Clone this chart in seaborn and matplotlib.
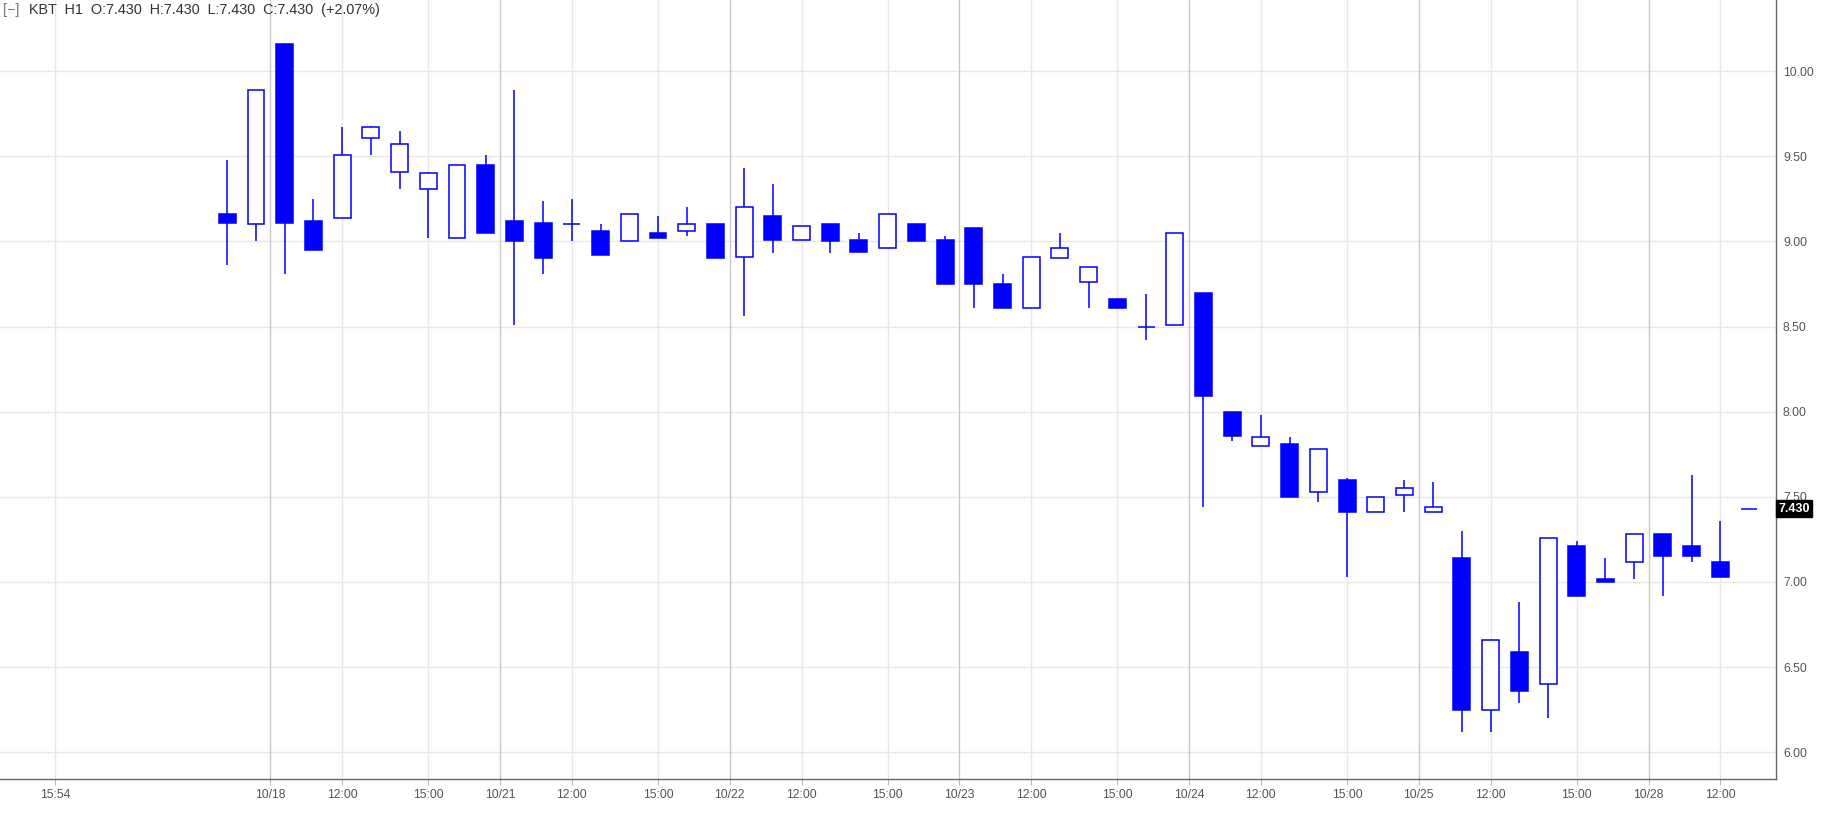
import numpy as np
import pandas as pd
import matplotlib
matplotlib.use("Agg")
import matplotlib.pyplot as plt
import seaborn as sns
from matplotlib import font_manager

# -------------------------------
# 1. Data: hourly OHLC
# -------------------------------
opens = [9.16, 9.10, 10.16, 9.12, 9.14, 9.61, 9.41, 9.31, 9.02, 9.45,
         9.12, 9.11, 9.10, 9.06, 9.00, 9.05, 9.06, 9.10, 8.91, 9.15,
         9.01, 9.10, 9.01, 8.96, 9.10, 9.01, 9.08, 8.75, 8.61, 8.90,
         8.76, 8.66, 8.50, 8.51, 8.70, 8.00, 7.80, 7.81, 7.53, 7.60,
         7.41, 7.51, 7.41, 7.14, 6.25, 6.59, 6.40, 7.21, 7.02, 7.12,
         7.28, 7.21, 7.12, 7.43]
highs = [9.48, 9.89, 10.16, 9.25, 9.67, 9.68, 9.65, 9.41, 9.45, 9.51,
         9.89, 9.24, 9.25, 9.10, 9.16, 9.15, 9.20, 9.10, 9.43, 9.34,
         9.09, 9.10, 9.05, 9.16, 9.10, 9.03, 9.08, 8.81, 8.91, 9.05,
         8.85, 8.66, 8.69, 9.05, 8.70, 8.00, 7.98, 7.85, 7.78, 7.61,
         7.50, 7.60, 7.59, 7.30, 6.66, 6.88, 7.26, 7.24, 7.14, 7.28,
         7.28, 7.63, 7.36, 7.43]
lows = [8.86, 9.00, 8.81, 8.95, 9.14, 9.51, 9.31, 9.02, 9.02, 9.05,
        8.51, 8.81, 9.00, 8.92, 9.00, 9.02, 9.03, 8.90, 8.56, 8.93,
        9.01, 8.93, 8.94, 8.96, 9.00, 8.75, 8.61, 8.61, 8.61, 8.90,
        8.61, 8.61, 8.42, 8.51, 7.44, 7.83, 7.80, 7.50, 7.47, 7.03,
        7.41, 7.41, 7.41, 6.12, 6.12, 6.29, 6.20, 6.92, 7.00, 7.02,
        6.92, 7.12, 7.03, 7.43]
closes = [9.11, 9.89, 9.11, 8.95, 9.51, 9.67, 9.57, 9.40, 9.45, 9.05,
          9.00, 8.90, 9.10, 8.92, 9.16, 9.02, 9.10, 8.90, 9.20, 9.01,
          9.09, 9.00, 8.94, 9.16, 9.00, 8.75, 8.75, 8.61, 8.91, 8.96,
          8.85, 8.61, 8.50, 9.05, 8.09, 7.86, 7.85, 7.50, 7.78, 7.41,
          7.50, 7.55, 7.44, 6.25, 6.66, 6.36, 7.26, 6.92, 7.00, 7.28,
          7.15, 7.15, 7.03, 7.43]

# trading sessions: day label and the hours traded that day
session_days = ["10/17", "10/18", "10/21", "10/22", "10/23", "10/24", "10/25", "10/28"]
session_hours = [[16, 17]] + [list(range(10, 18))] * 6 + [[10, 11, 12, 13]]

y_ticks = [6.0, 6.5, 7.0, 7.5, 8.0, 8.5, 9.0, 9.5, 10.0]
header = "KBT  H1  O:7.430  H:7.430  L:7.430  C:7.430  (+2.07%)"
last_label = "7.430"
left_label = "15:54"

# -------------------------------
# 2. Build table
# -------------------------------
day_col, hour_col = [], []
for d, hrs in zip(session_days, session_hours):
    for h in hrs:
        day_col.append(d)
        hour_col.append(h)

df = pd.DataFrame({"day": day_col, "hour": hour_col,
                   "open": opens, "high": highs, "low": lows, "close": closes})
df["slot"] = np.arange(len(df))
df["up"] = df["close"] >= df["open"]
df["body_low"] = df[["open", "close"]].min(axis=1)
df["body_h"] = (df["close"] - df["open"]).abs()

# ticks: day boundaries + 12:00 / 15:00 bars
ticks = [(-6, left_label, False)]
for d in session_days[1:]:
    first = df.loc[df["day"] == d, "slot"].iloc[0]
    ticks.append((first - 0.5, d, True))
for h in (12, 15):
    for s in df.loc[df["hour"] == h, "slot"]:
        ticks.append((s, f"{h}:00", False))
ticks.sort()

# -------------------------------
# 3. Style
# -------------------------------
sns.set_theme(style="white")
names = {f.name for f in font_manager.fontManager.ttflist}
if "Liberation Sans Narrow" in names:
    tick_font, tick_size = "Liberation Sans Narrow", 10
else:
    tick_font, tick_size = "Liberation Sans", 8.8
plt.rcParams["font.family"] = ["Liberation Sans", "DejaVu Sans"]

blue = "#0000ff"
W, H = 1831, 813
fig = plt.figure(figsize=(W / 100, H / 100), dpi=100)
ax = fig.add_axes([0, 34 / H, 1776 / W, 779 / H])

# grid
for yv in y_ticks:
    ax.axhline(yv, color="#e8e8e8", lw=1.0, zorder=0)
for pos, lab, is_day in ticks:
    ax.axvline(pos, color="#c8c8c8" if is_day else "#e8e8e8", lw=1.0, zorder=0)

# -------------------------------
# 4. Candles
# -------------------------------
ax.vlines(df["slot"], df["low"], df["high"], color=blue, lw=1.1, zorder=2)
ax.bar(df["slot"], df["body_h"], bottom=df["body_low"], width=0.59,
       color=np.where(df["up"], "white", blue), edgecolor=blue,
       linewidth=1.1, zorder=3)

ax.set_xlim(-7.917, 53.94)
ax.set_ylim(5.843, 10.418)

ax.yaxis.tick_right()
ax.set_yticks(y_ticks)
ax.set_yticklabels([f"{v:.2f}" for v in y_ticks], fontfamily=tick_font,
                   fontsize=tick_size, color="#555555")
ax.set_xticks([t[0] for t in ticks])
ax.set_xticklabels([t[1] for t in ticks], fontfamily=tick_font,
                   fontsize=tick_size, color="#555555")
ax.tick_params(axis="y", which="both", right=True, left=False, length=3, width=0.8,
               color="#666666", pad=2)
ax.tick_params(axis="x", which="both", bottom=True, length=4, width=0.8,
               color="#bbbbbb", pad=3)

sns.despine(ax=ax, left=True, top=True, right=False, bottom=False)
for side in ("right", "bottom"):
    ax.spines[side].set_color("#666666")
    ax.spines[side].set_linewidth(1.0)

# last price label
ax.annotate(last_label, xy=(1.0, closes[-1]), xycoords=("axes fraction", "data"),
            xytext=(1.5, 0), textcoords="offset points", ha="left", va="center",
            fontsize=9, fontweight="bold", color="white", zorder=10,
            bbox=dict(boxstyle="square,pad=0.2", fc="black", ec="black"))

# header
fig.text(3 / W, 1 - 10 / H, "[\u2212]", fontsize=10.4, color="#777777", va="center", ha="left")
fig.text(29 / W, 1 - 10 / H, header, fontsize=10.4, color="#333333", va="center", ha="left")

fig.savefig("out.png", dpi=100)
